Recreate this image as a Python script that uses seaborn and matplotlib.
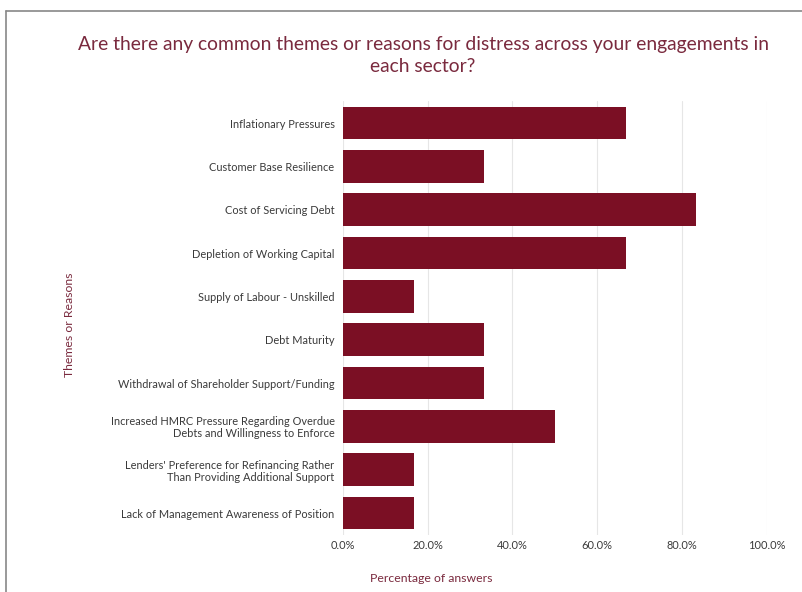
import matplotlib
matplotlib.use("Agg")
import matplotlib.pyplot as plt
import seaborn as sns
import pandas as pd
from matplotlib.ticker import PercentFormatter
from matplotlib.lines import Line2D

categories = [
    "Inflationary Pressures",
    "Customer Base Resilience",
    "Cost of Servicing Debt",
    "Depletion of Working Capital",
    "Supply of Labour - Unskilled",
    "Debt Maturity",
    "Withdrawal of Shareholder Support/Funding",
    "Increased HMRC Pressure Regarding Overdue\nDebts and Willingness to Enforce",
    "Lenders' Preference for Refinancing Rather\nThan Providing Additional Support",
    "Lack of Management Awareness of Position",
]
values = [66.7, 33.3, 83.3, 66.7, 16.7, 33.3, 33.3, 50.0, 16.7, 16.7]
xticks = [0, 20, 40, 60, 80, 100]

sns.set_theme(style="white")
plt.rcParams["font.family"] = ["Lato", "DejaVu Sans"]

df = pd.DataFrame({"cat": categories, "val": values})

fig = plt.figure(figsize=(8.03, 5.92), dpi=100)
ax = fig.add_axes([0.427, 0.0968, 0.528, 0.732])

sns.barplot(data=df, y="cat", x="val", color="#7B0F24", saturation=1,
            width=0.76, ax=ax, zorder=3, linewidth=0)

ax.set_xlim(0, 100)
ax.set_xticks(xticks)
ax.xaxis.set_major_formatter(PercentFormatter(decimals=1))
ax.grid(axis="x", color="#e6e6e6", linewidth=0.8, zorder=0)
for s in ax.spines.values():
    s.set_visible(False)
ax.tick_params(axis="both", length=0, labelsize=7.9, colors="#3a3a3a")
ax.tick_params(axis="y", pad=6)
ax.tick_params(axis="x", pad=4)
for lbl in ax.get_yticklabels():
    lbl.set_linespacing(1.1)
ax.set_ylabel("")
ax.set_xlabel("")

fig.text(0.537, 0.023, "Percentage of answers", ha="center", va="center",
         fontsize=8.8, color="#7a2a3e")
fig.text(0.087, 0.451, "Themes or Reasons", ha="center", va="center",
         rotation=90, fontsize=8.8, color="#7a2a3e")
fig.text(0.527, 0.907, "Are there any common themes or reasons for distress across your engagements in\neach sector?",
         ha="center", va="center", fontsize=13.9, color="#7a2a3e", linespacing=1.35)

# figure frame (top and left)
fig.add_artist(Line2D([0.007, 1.0], [0.981, 0.981], transform=fig.transFigure,
                      color="#888888", linewidth=1.2))
fig.add_artist(Line2D([0.008, 0.008], [0.0, 0.981], transform=fig.transFigure,
                      color="#888888", linewidth=1.2))

fig.savefig("out.png", dpi=100)
